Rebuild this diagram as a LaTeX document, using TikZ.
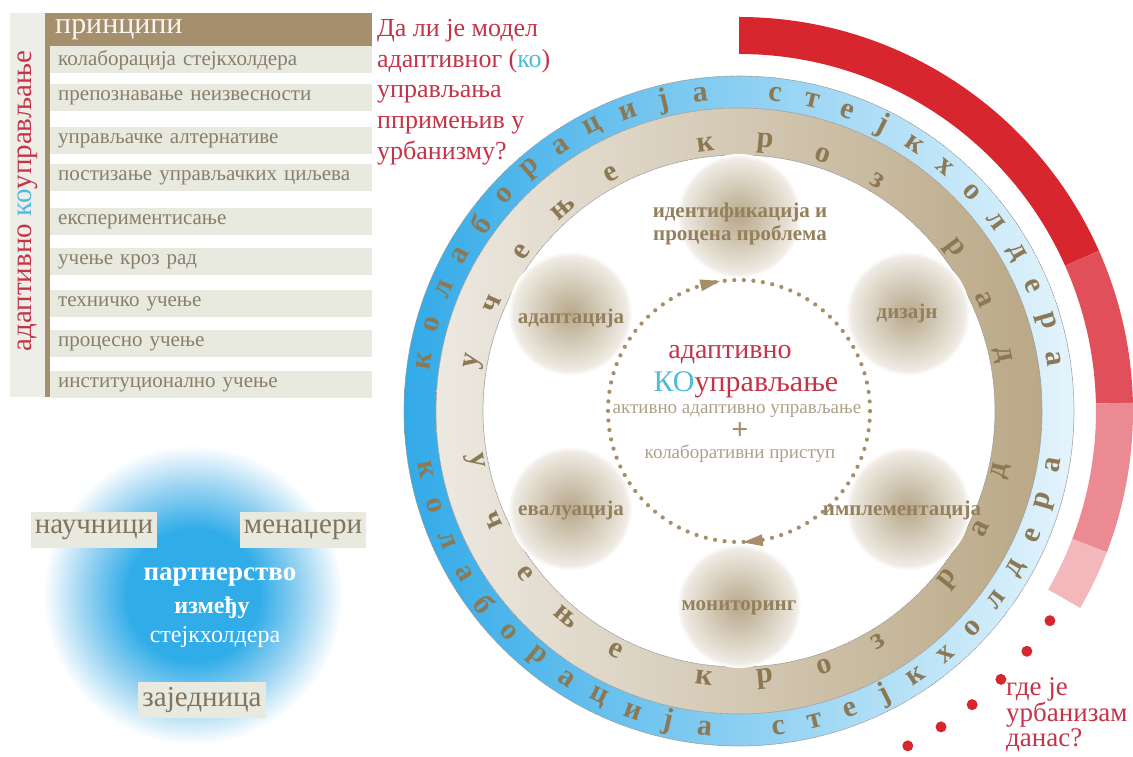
\documentclass[tikz,border=0pt]{standalone}
\usepackage{fontspec}
\setmainfont{Liberation Serif}
\usetikzlibrary{calc}

\definecolor{tanbar}{RGB}{166,143,108}
\definecolor{rowgrey}{RGB}{232,233,223}
\definecolor{panelgrey}{RGB}{238,238,232}
\definecolor{rowtext}{RGB}{138,126,106}
\definecolor{tagtext}{RGB}{128,116,94}
\definecolor{qred}{RGB}{196,52,72}
\definecolor{kocyan}{RGB}{78,186,220}
\definecolor{ringbrown}{RGB}{140,121,84}
\definecolor{balltext}{RGB}{148,128,92}
\definecolor{dotbrown}{RGB}{166,142,104}
\definecolor{smalltext}{RGB}{172,160,136}
\definecolor{red1}{RGB}{216,38,46}
\definecolor{red2}{RGB}{225,80,90}
\definecolor{red3}{RGB}{235,138,146}
\definecolor{red4}{RGB}{242,184,188}
\definecolor{blueL}{RGB}{50,170,232}
\definecolor{blueR}{RGB}{228,244,252}
\definecolor{beigeL}{RGB}{237,233,225}
\definecolor{beigeR}{RGB}{186,168,134}
\definecolor{partblue}{RGB}{48,172,232}
\definecolor{partfade}{RGB}{150,210,242}
\definecolor{ballcore}{RGB}{184,168,138}
\definecolor{ballmid}{RGB}{204,193,172}
\definecolor{ballrim}{RGB}{226,220,207}
\definecolor{balledge}{RGB}{239,235,228}

\pgfdeclareradialshading{ballglow}{\pgfpoint{0bp}{0bp}}{color(0bp)=(ballcore); color(9bp)=(ballmid); color(18bp)=(ballrim); color(23bp)=(balledge); color(25bp)=(white); color(50bp)=(white)}
\pgfdeclareradialshading{partglow}{\pgfpoint{0bp}{0bp}}{color(0bp)=(partblue); color(11bp)=(partblue); color(18bp)=(partfade); color(25bp)=(white); color(50bp)=(white)}

\begin{document}
\begin{tikzpicture}[x=1pt,y=1pt,line cap=round,line join=round,
  rowbox/.style={fill=rowgrey,text=rowtext,anchor=west,minimum height=27pt,text width=306pt,inner xsep=8pt,inner ysep=0pt,align=left,font=\fontsize{21}{24}\selectfont},
  tagbox/.style={fill=rowgrey,text=tagtext,inner xsep=4pt,inner ysep=0pt,minimum height=36pt,font=\fontsize{29}{30}\selectfont},
  ringchar/.style={text=ringbrown,inner sep=0pt,font=\fontsize{30}{30}\selectfont\bfseries},
  balllabel/.style={text=balltext,align=center,inner sep=0pt,font=\fontsize{21}{23}\selectfont\bfseries},
  question/.style={text=qred,align=left,inner sep=0pt,anchor=north west},
  border/.style={draw=gray!80,densely dotted,line width=0.7pt}]
  \useasboundingbox (0,0) rectangle (1133,757);

  % partnership of stakeholders
  \coordinate (part) at (193,162);
  \shade[shading=partglow] (part) circle (150);
  \node[tagbox] (sci) at (94,227) {научници};
  \node[tagbox] (man) at (303,227) {менаџери};
  \node[tagbox] (com) at (202,57) {заједница};
  \node[text=white,font=\fontsize{27}{28}\selectfont\bfseries] (pship) at (220,180) {партнерство};
  \node[text=white,font=\fontsize{24}{26}\selectfont\bfseries] (betw) at (212,149) {између};
  \node[text=white,font=\fontsize{24}{26}\selectfont] (stake) at (215,120) {стејкхолдера};

  % principles panel
  \fill[panelgrey] (10,360) rectangle (47,744);
  \fill[tanbar] (45,360) rectangle (50,744);
  \node[fill=tanbar,text=white!92!tanbar,anchor=west,minimum height=34pt,text width=307pt,inner xsep=10pt,inner ysep=0pt,font=\fontsize{30}{30}\selectfont] (head) at (45,727) {принципи};
  \foreach \y/\t [count=\i] in {697/колаборација стејкхолдера,659/препознавање неизвесности,616/управљачке алтернативе,579/постизање управљачких циљева,535/експериментисање,495/учење кроз рад,453/техничко учење,413/процесно учење,372/институционално учење}
    \node[rowbox] (row\i) at (50,\y) {\t};
  \node[rotate=90,text=qred,inner sep=0pt,font=\fontsize{29}{30}\selectfont] (side) at (28,556) {адаптивно {\color{kocyan}ко}управљање};

  % questions
  \node[question,font=\fontsize{26}{30.7}\selectfont] (ask) at (377,738) {Да ли је модел\\адаптивног ({\color{kocyan}ко})\\управљања\\ппримењив у\\урбанизму?};
  \node[question,font=\fontsize{27}{25}\selectfont] (today) at (1006,80) {где је\\урбанизам\\данас?};

  % rings
  \coordinate (c) at (739,346);
  \foreach \a/\b/\col in {90/24/red1,24/1.2/red2,1.2/-21/red3,-21/-30/red4}
    \fill[\col] ($(c)+(\a:357)$) arc (\a:\b:357) -- ($(c)+(\b:394)$) arc (\b:\a:394) -- cycle;
  \foreach \a in {-34,-39.85,-45.7,-51.55,-57.4,-63.25}
    \fill[red1] ($(c)+(\a:375)$) circle (5.5);
  \shade[left color=blueL,right color=blueR,even odd rule] (c) circle (335) (c) circle (303);
  \shade[left color=beigeL,right color=beigeR,even odd rule] (c) circle (303) (c) circle (256);
  \draw[border] (c) circle (335);
  \draw[border] (c) circle (303);
  \draw[border] (c) circle (256);

  \foreach \a/\ch [count=\i] in {171.0/к,164.3/о,157.5/л,150.8/а,144.1/б,137.4/о,130.6/р,123.9/а,117.2/ц,110.4/и,103.7/ј,97.0/а,83.5/с,76.8/т,70.1/е,63.4/ј,56.6/к,49.9/х,43.2/о,36.4/л,29.7/д,23.0/е,16.3/р,9.5/а}
    \node[ringchar,rotate=\a-90] (bu\i) at ($(c)+(\a:319)$) {\ch};
  \foreach \a/\ch [count=\i] in {190.6/к,197.3/о,203.9/л,210.6/а,217.2/б,223.9/о,230.5/р,237.2/а,243.8/ц,250.5/и,257.1/ј,263.8/а,277.1/с,283.8/т,290.4/е,297.1/ј,303.7/к,310.4/х,317.0/о,323.7/л,330.3/д,337.0/е,343.6/р,350.3/а}
    \node[ringchar,rotate=\a+90] (bl\i) at ($(c)+(\a:319)$) {\ch};
  \foreach \a/\ch [count=\i] in {169.4/у,156.5/ч,143.8/е,131.0/њ,118.3/е,97.2/к,84.5/р,71.8/о,59.1/з,37.0/р,24.5/а,12.0/д}
    \node[ringchar,rotate=\a-90] (wu\i) at ($(c)+(\a:269)$) {\ch};
  \foreach \a/\ch [count=\i] in {190.7/у,204.0/ч,217.3/е,230.1/њ,242.8/е,262.5/к,275.5/р,288.5/о,301.2/з,321.2/р,334.0/а,347.0/д}
    \node[ringchar,rotate=\a+90] (wl\i) at ($(c)+(\a:269)$) {\ch};

  % cycle of steps
  \foreach \a in {90,30,-30,-90,210,150}
    \shade[shading=ballglow] ($(c)+(\a:195)$) circle (62);
  \draw[dotbrown,line width=4.2pt,dash pattern=on 0pt off 9.57pt] (c) circle (131);
  \fill[dotbrown,shift={($(c)+(102.6:131)$)},rotate=12.6] (-10,-6) -- (10,0) -- (-10,6) -- cycle;
  \fill[dotbrown,shift={($(c)+(276:131)$)},rotate=186] (-10,-6) -- (10,0) -- (-10,6) -- cycle;
  \node[balllabel] (find) at (740,533) {идентификација и\\процена проблема};
  \node[balllabel] (design) at (907,444) {дизајн};
  \node[balllabel] (impl) at (902,247) {имплементација};
  \node[balllabel] (monit) at (739,149) {мониторинг};
  \node[balllabel] (eval) at (571,247) {евалуација};
  \node[balllabel] (adapt) at (571,439) {адаптација};

  % centre
  \node[text=qred,inner sep=0pt,font=\fontsize{28}{30}\selectfont] (title) at (730,402) {адаптивно};
  \node[text=qred,inner sep=0pt,font=\fontsize{30}{32}\selectfont] (cogov) at (746,372) {{\color{kocyan}КО}управљање};
  \node[text=smalltext,inner sep=0pt,font=\fontsize{19}{21}\selectfont] (active) at (737,346) {активно адаптивно управљање};
  \node[text=dotbrown,inner sep=0pt,font=\fontsize{30}{30}\selectfont\bfseries] (plus) at (740,326) {+};
  \node[text=smalltext,inner sep=0pt,font=\fontsize{19}{21}\selectfont] (collab) at (740,303) {колаборативни приступ};
\end{tikzpicture}
\end{document}
